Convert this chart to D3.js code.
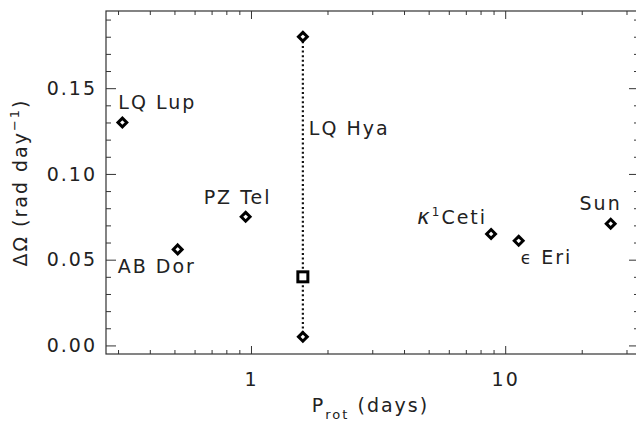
<!DOCTYPE html>
<html>
<head>
<meta charset="utf-8">
<script src="https://cdn.jsdelivr.net/npm/d3@7/dist/d3.min.js"></script>
<style>
  html, body { margin: 0; padding: 0; background: #fff; }
  svg { display: block; }
  text { font-family: "DejaVu Sans", "Liberation Sans", sans-serif; fill: #222; }
</style>
</head>
<body>
<svg id="chart" width="636" height="422"></svg>
<script>
// ---- data ----
const stars   = ["LQ Lup", "AB Dor", "PZ Tel", "κ1Ceti", "ϵ Eri", "Sun"];
const prot    = [0.312, 0.515, 0.953, 8.8, 11.3, 26.0];
const dOmega  = [0.130, 0.056, 0.075, 0.065, 0.061, 0.071];

// LQ Hya: range of values plus central estimate
const lqHyaProt   = 1.6;
const lqHyaRange  = [0.005, 0.180];
const lqHyaCentre = 0.040;

const xMajorTicks = [1, 10];
const xMinorTicks = [0.3, 0.4, 0.5, 0.6, 0.7, 0.8, 0.9, 2, 3, 4, 5, 6, 7, 8, 9, 20, 30];
const yMajorTicks = [0.00, 0.05, 0.10, 0.15];
const yMinorTicks = [0.01, 0.02, 0.03, 0.04, 0.06, 0.07, 0.08, 0.09, 0.11, 0.12, 0.13, 0.14, 0.16, 0.17, 0.18, 0.19];

// ---- layout ----
const L = 106, R = 639, T = 11, B = 354;
const svg = d3.select("#chart");
const x = d3.scaleLog().domain([0.269, 33.6]).range([L, R]);
const y = d3.scaleLinear().domain([-0.005, 0.195]).range([B, T]);

const axisColor = "#333";
const fontSize = 19, ls = 2;

function styleAxis(g) {
  g.select(".domain").remove();
  g.selectAll(".tick line").attr("stroke", axisColor).attr("stroke-width", 1);
  g.selectAll(".tick text")
    .attr("font-size", fontSize)
    .attr("font-family", "DejaVu Sans, sans-serif")
    .attr("letter-spacing", ls)
    .attr("fill", "#222");
}

// bottom
svg.append("g").attr("transform", `translate(0,${B})`)
  .call(d3.axisBottom(x).tickValues(xMajorTicks).tickFormat(d3.format("d")).tickSizeInner(-8).tickSizeOuter(0).tickPadding(19))
  .call(styleAxis);
svg.append("g").attr("transform", `translate(0,${B})`)
  .call(d3.axisBottom(x).tickValues(xMinorTicks).tickFormat("").tickSizeInner(-4).tickSizeOuter(0))
  .call(styleAxis);
// top
svg.append("g").attr("transform", `translate(0,${T})`)
  .call(d3.axisTop(x).tickValues(xMajorTicks).tickFormat("").tickSizeInner(-8).tickSizeOuter(0))
  .call(styleAxis);
svg.append("g").attr("transform", `translate(0,${T})`)
  .call(d3.axisTop(x).tickValues(xMinorTicks).tickFormat("").tickSizeInner(-4).tickSizeOuter(0))
  .call(styleAxis);
// left
svg.append("g").attr("transform", `translate(${L},0)`)
  .call(d3.axisLeft(y).tickValues(yMajorTicks).tickFormat(d3.format(".2f")).tickSizeInner(-10).tickSizeOuter(0).tickPadding(9))
  .call(styleAxis);
svg.append("g").attr("transform", `translate(${L},0)`)
  .call(d3.axisLeft(y).tickValues(yMinorTicks).tickFormat("").tickSizeInner(-5).tickSizeOuter(0))
  .call(styleAxis);
// right
svg.append("g").attr("transform", `translate(${R},0)`)
  .call(d3.axisRight(y).tickValues(yMajorTicks).tickFormat("").tickSizeInner(-10).tickSizeOuter(0))
  .call(styleAxis);
svg.append("g").attr("transform", `translate(${R},0)`)
  .call(d3.axisRight(y).tickValues(yMinorTicks).tickFormat("").tickSizeInner(-5).tickSizeOuter(0))
  .call(styleAxis);

// frame
svg.append("rect").attr("x", L).attr("y", T).attr("width", R - L).attr("height", B - T)
  .attr("fill", "none").attr("stroke", axisColor).attr("stroke-width", 1.2);

// LQ Hya dotted range
svg.append("line")
  .attr("x1", x(lqHyaProt)).attr("x2", x(lqHyaProt))
  .attr("y1", y(lqHyaRange[1])).attr("y2", y(lqHyaRange[0]))
  .attr("stroke", "#111").attr("stroke-width", 2.2).attr("stroke-dasharray", "2,2.6");

// diamond markers
const diamond = s => `M0,${-s}L${s},0L0,${s}L${-s},0Z`;
function drawDiamond(px, py) {
  svg.append("path").attr("d", diamond(4.4))
    .attr("transform", `translate(${px},${py})`)
    .attr("fill", "#fff").attr("stroke", "#000").attr("stroke-width", 3)
    .attr("stroke-linejoin", "miter");
}
stars.forEach((s, i) => drawDiamond(x(prot[i]), y(dOmega[i])));
lqHyaRange.forEach(v => drawDiamond(x(lqHyaProt), y(v)));
// centre square
svg.append("rect")
  .attr("x", x(lqHyaProt) - 5).attr("y", y(lqHyaCentre) - 5)
  .attr("width", 10).attr("height", 10)
  .attr("fill", "#fff").attr("stroke", "#000").attr("stroke-width", 3);

// ---- labels (pixel offsets from marker) ----
const labelOffsets = [
  { dx: -4,  dy: -13, anchor: "start" },  // LQ Lup
  { dx: -60, dy: 24,  anchor: "start" },  // AB Dor
  { dx: -42, dy: -13, anchor: "start" },  // PZ Tel
  { dx: -4,  dy: -10, anchor: "end" },    // kappa1 Ceti
  { dx: 2,   dy: 23,  anchor: "start" },  // eps Eri
  { dx: 11,  dy: -14, anchor: "end" }     // Sun
];
stars.forEach((s, i) => {
  const o = labelOffsets[i];
  const t = svg.append("text")
    .attr("x", x(prot[i]) + o.dx).attr("y", y(dOmega[i]) + o.dy)
    .attr("font-size", fontSize).attr("letter-spacing", ls)
    .attr("text-anchor", o.anchor);
  if (s === "κ1Ceti") {
    t.append("tspan").attr("font-style", "italic").attr("font-size", 21).text("κ");
    t.append("tspan").attr("font-size", 12).attr("dy", -8).text("1");
    t.append("tspan").attr("dy", 8).text("Ceti");
  } else if (s === "ϵ Eri") {
    t.append("tspan").attr("font-size", 17).text("ϵ");
    t.append("tspan").text("\u00a0Eri");
  } else {
    t.text(s.replace(" ", "\u00a0"));
  }
});
svg.append("text")
  .attr("x", x(lqHyaProt) + 6).attr("y", 135)
  .attr("font-size", fontSize).attr("letter-spacing", ls)
  .text("LQ\u00a0Hya");

// axis titles
const xt = svg.append("text")
  .attr("x", (L + R) / 2 - 2).attr("y", 412)
  .attr("text-anchor", "middle").attr("font-size", fontSize).attr("letter-spacing", ls);
xt.append("tspan").text("P");
xt.append("tspan").attr("font-size", 13).attr("dy", 7).text("rot");
xt.append("tspan").attr("dy", -7).text("\u00a0(days)");

const yt = svg.append("text")
  .attr("transform", `translate(27,${(T + B) / 2}) rotate(-90)`)
  .attr("text-anchor", "middle").attr("font-size", fontSize).attr("letter-spacing", ls);
yt.append("tspan").text("ΔΩ\u00a0(rad\u00a0day");
yt.append("tspan").attr("font-size", 13).attr("dy", -8).text("−1");
yt.append("tspan").attr("dy", 8).text(")");
</script>
</body>
</html>
